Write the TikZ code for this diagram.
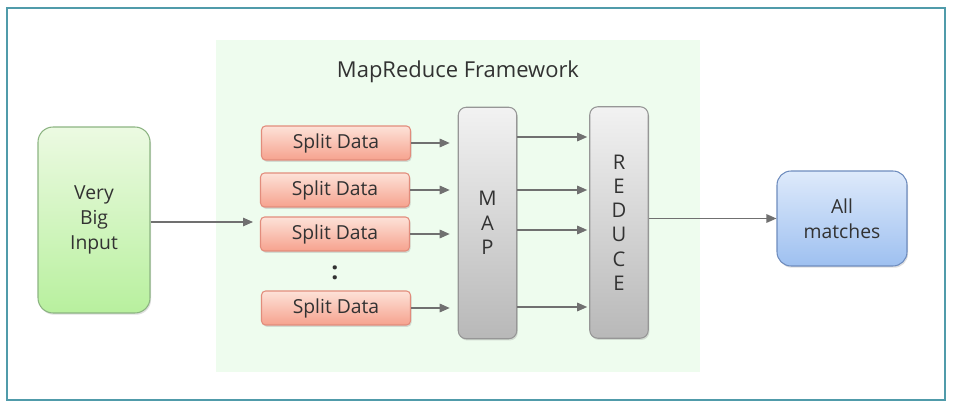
\documentclass[tikz,border=0pt]{standalone}
\usepackage{fontspec}
\setmainfont{Open Sans}
\usetikzlibrary{arrows.meta,shadows}
\definecolor{frameteal}{RGB}{80,155,170}
\definecolor{bggreen}{RGB}{238,252,238}
\definecolor{arrowgray}{RGB}{112,112,112}
\definecolor{textdark}{RGB}{50,50,50}
\tikzset{
    box/.style={draw, line width=0.6pt, align=center, text=textdark, inner sep=0pt,
        font=\fontsize{11}{14}\selectfont,
        drop shadow={shadow xshift=0.6pt, shadow yshift=-1pt, opacity=0.25}},
    inputbox/.style={box, rounded corners=0.3cm, minimum width=2.24cm, minimum height=3.72cm,
        draw={rgb,255:red,140;green,180;blue,130},
        top color={rgb,255:red,236;green,250;blue,226}, bottom color={rgb,255:red,184;green,240;blue,158}},
    splitbox/.style={box, rounded corners=0.08cm, minimum width=2.98cm, minimum height=0.68cm,
        draw={rgb,255:red,226;green,140;blue,124},
        top color={rgb,255:red,253;green,226;blue,216}, bottom color={rgb,255:red,246;green,162;blue,142}},
    stagebox/.style={box, rounded corners=0.16cm, minimum width=1.17cm, minimum height=4.63cm,
        draw={rgb,255:red,150;green,150;blue,150}, font=\fontsize{11.5}{13.8}\selectfont,
        top color={rgb,255:red,242;green,242;blue,242}, bottom color={rgb,255:red,184;green,184;blue,184}},
    outbox/.style={box, rounded corners=0.28cm, minimum width=2.6cm, minimum height=1.9cm,
        draw={rgb,255:red,110;green,140;blue,190},
        top color={rgb,255:red,222;green,234;blue,251}, bottom color={rgb,255:red,158;green,192;blue,240}},
    flow/.style={draw=arrowgray, line width=0.75pt, -{Triangle[length=2mm,width=1.7mm]}}
}
\begin{document}
\begin{tikzpicture}[x=0.02cm,y=-0.02cm]
    \useasboundingbox (0,0) rectangle (953,405);
    \fill[white] (0,0) rectangle (953,405);
    \draw [frameteal, line width=1.1pt] (7,8) rectangle (945,400);
    \fill [bggreen] (216,40) rectangle (700,372);
    \node[text=textdark, font=\fontsize{12.5}{15}\selectfont] (title) at (458,72) {MapReduce Framework};

    \node[inputbox] (in) at (94,220) {Very\\Big\\Input};
    \node[splitbox] (s1) at (336,143) {Split Data};
    \node[splitbox] (s2) at (335,190) {Split Data};
    \node[splitbox] (s3) at (335,234) {Split Data};
    \node[splitbox] (s4) at (336,308) {Split Data};
    \node[text=textdark, font=\fontsize{14}{16}\bfseries] (dots) at (335,273) {:};
    \node[stagebox] (map) at (487.5,223) {M\\A\\P};
    \node[stagebox] (red) at (619,222.5) {R\\E\\D\\U\\C\\E};
    \node[outbox] (all) at (842,218.5) {All\\matches};

    \coordinate (entry) at (253,222);
    \draw [flow] (in.east |- entry) -- (entry);
    \foreach \s in {s1,s2,s3,s4}
        \draw [flow, shorten >=0.16cm] (\s.east) -- (\s.east -| map.west);
    \foreach \y [count=\i] in {137,190,230,307} {
        \coordinate (r\i) at (0,\y);
        \draw [flow, shorten >=0.04cm] (map.east |- r\i) -- (red.west |- r\i);
    }
    \draw [flow] (all.west -| red.east) -- (all.west);
\end{tikzpicture}
\end{document}
